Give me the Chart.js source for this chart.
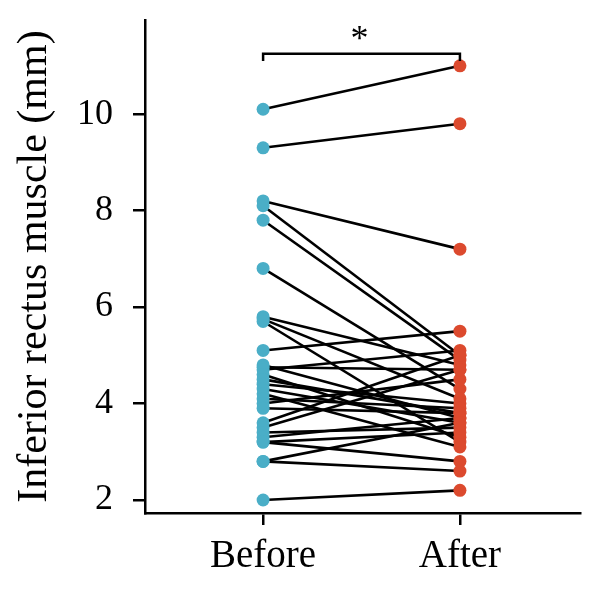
<!DOCTYPE html>
<html>
<head>
<meta charset="utf-8">
<script src="https://cdn.jsdelivr.net/npm/chart.js@4"></script>
<style>
html,body{margin:0;padding:0;background:#fff;}
#wrap{width:600px;height:595px;}
</style>
</head>
<body>
<div id="wrap"><canvas id="c" width="600" height="595"></canvas></div>
<script>
const categories = ["Before", "After"];
const beforeValues = [10.1, 9.3, 8.2, 8.1, 7.8, 6.8, 5.8, 5.75, 5.7, 5.1, 4.8, 4.75, 4.7, 4.6, 4.5, 4.4, 4.3, 4.2, 4.1, 4.0, 3.9, 3.6, 3.5, 3.4, 3.3, 3.2, 3.2, 2.8, 2.8, 2.0];
const afterValues  = [11.0, 9.8, 7.2, 5.0, 4.9, 4.3, 4.8, 4.1, 3.2, 5.5, 3.7, 4.7, 5.1, 3.3, 3.8, 4.0, 3.6, 3.1, 3.9, 4.5, 3.8, 5.0, 4.7, 3.5, 3.7, 2.8, 3.4, 3.6, 2.6, 2.2];
const yTickValues = [2, 4, 6, 8, 10];
const yTitle = "Inferior rectus muscle (mm)";
const sigLabel = "*";

const BLUE = "#4aaec7";
const RED = "#dc4a2e";
const SERIF = "'Liberation Serif', 'DejaVu Serif', serif";

const datasets = [];
beforeValues.forEach((b, i) => {
  datasets.push({
    type: 'line',
    data: [{x: 1, y: b}, {x: 2, y: afterValues[i]}],
    borderColor: '#000',
    borderWidth: 2.6,
    pointRadius: 0,
    fill: false,
    order: 2
  });
});
datasets.push({
  type: 'scatter',
  data: beforeValues.map(v => ({x: 1, y: v})),
  backgroundColor: BLUE, borderColor: BLUE, pointRadius: 6.5, borderWidth: 0, order: 0
});
datasets.push({
  type: 'scatter',
  data: afterValues.map(v => ({x: 2, y: v})),
  backgroundColor: RED, borderColor: RED, pointRadius: 6.5, borderWidth: 0, order: 0
});

const sigPlugin = {
  id: 'sig',
  afterDatasetsDraw(chart) {
    const {ctx, scales: {x, y}} = chart;
    const x1 = x.getPixelForValue(1), x2 = x.getPixelForValue(2);
    const yb = y.getPixelForValue(11.25);
    const yt = y.getPixelForValue(11.1);
    ctx.save();
    ctx.strokeStyle = '#000';
    ctx.lineWidth = 2.5;
    ctx.beginPath();
    ctx.moveTo(x1, yt); ctx.lineTo(x1, yb); ctx.lineTo(x2, yb); ctx.lineTo(x2, yt);
    ctx.stroke();
    ctx.fillStyle = '#000';
    ctx.font = "36px " + SERIF;
    ctx.textAlign = 'center';
    ctx.textBaseline = 'middle';
    ctx.fillText(sigLabel, (x1 + x2) / 2 - 2, y.getPixelForValue(11.52));
    ctx.restore();
  }
};

new Chart(document.getElementById('c'), {
  type: 'scatter',
  data: {datasets},
  options: {
    responsive: false,
    animation: false,
    layout: {padding: {left: 0, top: 20, right: 20, bottom: 0}},
    plugins: {legend: {display: false}, tooltip: {enabled: false}},
    scales: {
      x: {
        type: 'linear',
        min: 0.4, max: 2.61,
        afterBuildTicks: s => { s.ticks = [1, 2].map(v => ({value: v})); },
        afterFit: s => { s.height = 82; s.paddingLeft = 0; s.paddingRight = 0; },
        ticks: {
          callback: v => categories[v - 1],
          font: {family: SERIF, size: 39},
          color: '#000',
          padding: 8
        },
        grid: {display: true, drawOnChartArea: false, drawTicks: true, tickLength: 12, color: '#000', lineWidth: 2.5},
        border: {display: true, color: '#000', width: 2.5}
      },
      y: {
        type: 'linear',
        min: 1.73, max: 11.95,
        afterBuildTicks: s => { s.ticks = yTickValues.map(v => ({value: v})); },
        afterFit: s => { s.width = 145; s.paddingTop = 0; s.paddingBottom = 0; },
        ticks: {
          callback: v => String(v),
          font: {family: SERIF, size: 36},
          color: '#000',
          padding: 20
        },
        title: {display: true, text: yTitle, font: {family: SERIF, size: 42}, color: '#000', padding: {top: 10, bottom: 0}},
        grid: {display: true, drawOnChartArea: false, drawTicks: true, tickLength: 12, color: '#000', lineWidth: 2.5},
        border: {display: true, color: '#000', width: 2.5}
      }
    }
  },
  plugins: [sigPlugin]
});
</script>
</body>
</html>
